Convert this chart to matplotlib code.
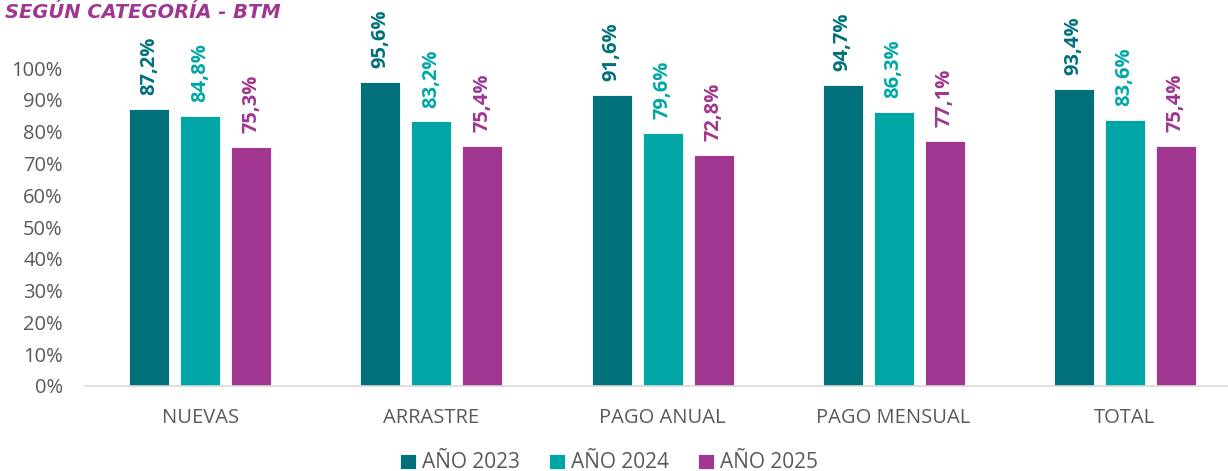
import numpy as np
import matplotlib.pyplot as plt

categorias = ["NUEVAS", "ARRASTRE", "PAGO ANUAL", "PAGO MENSUAL", "TOTAL"]
series = ["AÑO 2023", "AÑO 2024", "AÑO 2025"]
v2023 = [87.2, 95.6, 91.6, 94.7, 93.4]
v2024 = [84.8, 83.2, 79.6, 86.3, 83.6]
v2025 = [75.3, 75.4, 72.8, 77.1, 75.4]
yticks = [0, 10, 20, 30, 40, 50, 60, 70, 80, 90, 100]

colores = ["#00707A", "#00A6A6", "#A0368F"]
gris = "#595959"

plt.rcParams['font.family'] = ['Open Sans', 'DejaVu Sans']

fig = plt.figure(figsize=(12.28, 4.71), dpi=100)
ax = fig.add_axes([0.0692, 0.1805, 0.9406, 0.675])

x = np.arange(len(categorias))
paso = 51 / 231
ancho = 40 / 231
for i, (vals, nombre) in enumerate(zip([v2023, v2024, v2025], series)):
    pos = x + (i - 1) * paso
    ax.bar(pos, vals, width=ancho, color=colores[i], label=nombre,
           edgecolor="white", linewidth=0.6)
    for px, v in zip(pos, vals):
        ax.annotate(f"{v:.1f}%".replace(".", ","), (px, v), xytext=(0, 10),
                    textcoords="offset points", rotation=90, ha="center",
                    va="bottom", color=colores[i], fontsize=14.5,
                    fontweight="bold", annotation_clip=False)

ax.set_xlim(-0.5, len(categorias) - 0.5)
ax.set_ylim(0, 100)
ax.set_yticks(yticks)
ax.set_yticklabels([f"{t}%" for t in yticks])
ax.set_xticks(x)
ax.set_xticklabels(categorias)
ax.tick_params(axis="both", length=0, labelsize=14.5, colors=gris)
ax.tick_params(axis="x", pad=16)
ax.tick_params(axis="y", pad=16)
for s in ["top", "right", "left"]:
    ax.spines[s].set_visible(False)
ax.spines["bottom"].set_color("#D9D9D9")
ax.spines["bottom"].set_linewidth(1.2)

fig.text(0.004, 0.974, "SEGÚN CATEGORÍA - BTM", color="#A0368F", fontsize=14,
         fontweight="bold", fontstyle="italic", family="DejaVu Sans",
         va="center", ha="left")

leg = fig.legend(loc="lower center", bbox_to_anchor=(0.496, -0.045), ncol=3,
                 frameon=False, fontsize=15, handlelength=0.75, handleheight=0.75,
                 handletextpad=0.3, columnspacing=1.4)
for t in leg.get_texts():
    t.set_color(gris)

fig.savefig("out.png", dpi=100)
